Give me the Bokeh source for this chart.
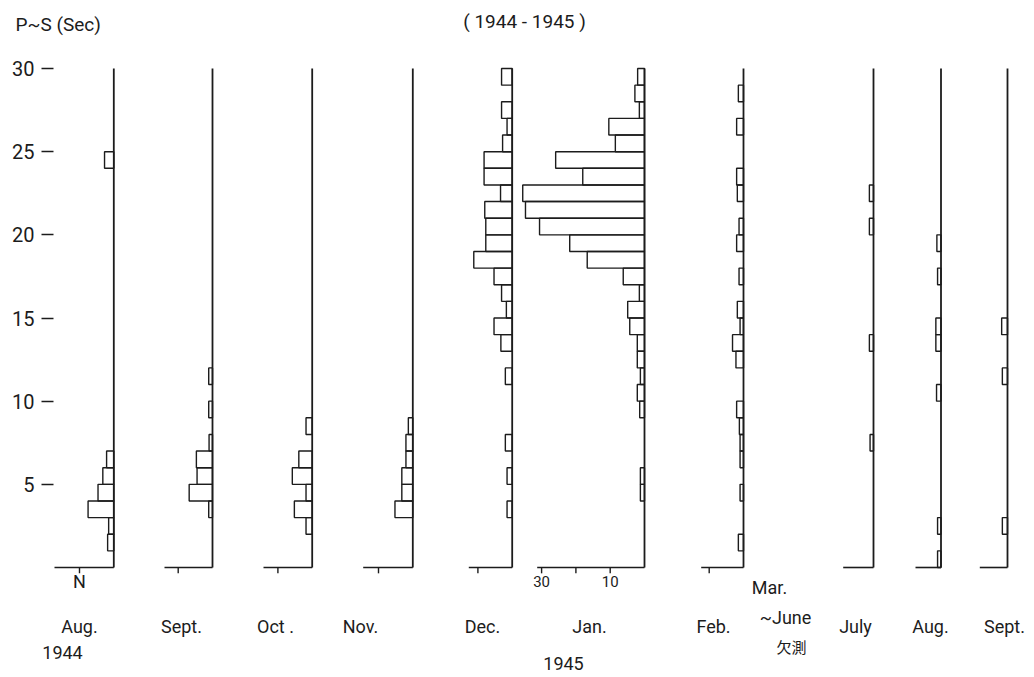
from bokeh.plotting import figure
from bokeh.models import Range1d, FixedTicker, Label, LinearAxis
from bokeh.embed import file_html
from bokeh.resources import INLINE

# ---------------- data (bin lower edge in seconds, count) ----------------
aug44_sec = [24, 6, 5, 4, 3, 2, 1]
aug44_n = [2.7, 2.1, 3.2, 4.6, 7.5, 1.5, 1.8]

sep44_sec = [11, 9, 7, 6, 5, 4, 3]
sep44_n = [1.1, 1.1, 1.0, 4.7, 4.5, 6.8, 1.1]

oct44_sec = [8, 6, 5, 4, 3, 2]
oct44_n = [1.8, 3.9, 5.8, 1.8, 5.2, 1.8]

nov44_sec = [8, 7, 6, 5, 4, 3]
nov44_n = [1.3, 2.0, 2.0, 3.2, 3.2, 5.2]

dec44_sec = [29, 27, 26, 25, 24, 23, 22, 21, 20, 19, 18, 17, 16, 15, 14, 13, 11, 7, 5, 3]
dec44_n = [3.1, 3.1, 1.5, 2.8, 8.2, 8.2, 3.4, 8.0, 7.7, 7.7, 11.2, 5.3, 3.1, 1.7, 5.3, 3.3, 2.0, 2.0, 1.5, 1.5]

jan45_sec = [29, 28, 27, 26, 25, 24, 23, 22, 21, 20, 19, 18, 17, 16, 15, 14, 13, 12, 11, 10, 9, 5, 4]
jan45_n = [2.0, 2.8, 1.5, 10.4, 8.5, 25.9, 18.0, 35.5, 34.7, 30.6, 21.8, 16.7, 6.2, 1.5, 4.9, 4.3,
           2.1, 2.1, 1.2, 2.1, 1.4, 1.2, 1.2]

feb45_sec = [28, 26, 23, 22, 20, 19, 17, 15, 14, 13, 12, 9, 8, 7, 6, 4, 1]
feb45_n = [1.5, 2.0, 2.0, 1.8, 1.3, 2.0, 1.3, 1.8, 1.0, 3.2, 2.2, 2.0, 1.2, 1.0, 1.0, 1.0, 1.5]

jul45_sec = [22, 20, 13, 7]
jul45_n = [1.2, 1.2, 1.2, 1.0]

aug45_sec = [19, 17, 14, 13, 10, 2, 0]
aug45_n = [1.2, 1.0, 1.5, 1.5, 1.3, 1.0, 1.0]

sep45_sec = [14, 11, 2]
sep45_n = [1.7, 1.5, 1.5]

month_labels = ["Aug.", "Sept.", "Oct .", "Nov.", "Dec.", "Jan.", "Feb.", "July", "Aug.", "Sept."]
ytick_values = [5, 10, 15, 20, 25, 30]
jan_ticks = [30, 20, 10]
jan_tick_labels = ["30", "", "10"]

# ---------------- layout ----------------
W, H = 1034, 677
AXIS_PX = 53            # where the seconds axis sits (screen px)
PX_PER_COUNT = 3.43
PX_PER_SEC = 16.633
ZERO_PX = 567

def xd(px):
    return (px - AXIS_PX) / PX_PER_COUNT

def yd(py):
    return (ZERO_PX - py) / PX_PER_SEC

panels = [
    # secs, counts, baseline px, count-axis left px, small tick at 10?
    (aug44_sec, aug44_n, 113.3, 54.0, True),
    (sep44_sec, sep44_n, 212.0, 164.0, True),
    (oct44_sec, oct44_n, 311.7, 263.0, True),
    (nov44_sec, nov44_n, 412.3, 362.7, True),
    (dec44_sec, dec44_n, 511.7, 468.3, True),
    (jan45_sec, jan45_n, 644.0, 536.7, False),
    (feb45_sec, feb45_n, 743.0, 700.7, True),
    (jul45_sec, jul45_n, 873.0, 842.7, False),
    (aug45_sec, aug45_n, 940.5, 915.0, False),
    (sep45_sec, sep45_n, 1007.0, 979.3, False),
]
label_x_px = [79, 181, 275, 360, 482, 589, 713, 855, 930, 1004]
MONTH_Y = 626

INK = "#1c1c1c"
FONT = "Roboto"

p = figure(width=W, height=H, output_backend="svg", toolbar_location=None,
           x_range=Range1d(xd(0), xd(W)), y_range=Range1d(yd(H), yd(0)),
           x_axis_type=None, y_axis_location=None,
           min_border_left=0, min_border_right=0, min_border_top=0, min_border_bottom=0)
p.outline_line_color = None
p.grid.visible = False
p.background_fill_color = "white"
p.border_fill_color = "white"

ax = LinearAxis(fixed_location=xd(AXIS_PX))
ax.ticker = FixedTicker(ticks=ytick_values)
ax.axis_line_color = None
ax.major_tick_in = 0
ax.major_tick_out = 12
ax.major_tick_line_color = INK
ax.major_tick_line_width = 1.5
ax.minor_tick_line_color = None
ax.major_label_standoff = 7
ax.major_label_text_font = FONT
ax.major_label_text_font_size = "20px"
ax.major_label_text_color = INK
p.add_layout(ax, "left")

for sec, n, base_px, left_px, tick10 in panels:
    base = xd(base_px)
    p.quad(left=[base - v for v in n], right=[base] * len(n),
           bottom=sec, top=[s + 1 for s in sec],
           fill_alpha=0, line_color=INK, line_width=1.4)
    p.segment(x0=[base], y0=[0], x1=[base], y1=[30], line_color=INK, line_width=1.8)
    p.segment(x0=[xd(left_px)], y0=[0], x1=[base], y1=[0], line_color=INK, line_width=1.6)
    if tick10:
        p.segment(x0=[base - 10], y0=[0], x1=[base - 10], y1=[-0.35], line_color=INK, line_width=1.4)

# count axis ticks of January
jan_base = xd(644.0)
p.segment(x0=[jan_base - t for t in jan_ticks], y0=[0] * 3,
          x1=[jan_base - t for t in jan_ticks], y1=[-0.35] * 3, line_color=INK, line_width=1.4)
for t, lab in zip(jan_ticks, jan_tick_labels):
    if lab:
        p.add_layout(Label(x=jan_base - t, y=yd(581), text=lab, text_align="center",
                           text_baseline="middle", text_font=FONT, text_font_size="15px",
                           text_color=INK))

def add_text(txt, xpx, ypx, size="18px", align="center", font=FONT):
    p.add_layout(Label(x=xd(xpx), y=yd(ypx), text=txt, text_align=align,
                       text_baseline="middle", text_font=font, text_font_size=size,
                       text_color=INK))

for txt, xpx in zip(month_labels, label_x_px):
    add_text(txt, xpx, MONTH_Y)

add_text("N", 79, 581)
add_text("1944", 62, 652)
add_text("1945", 563, 663)
add_text("Mar.", 769, 587)
add_text("~June", 785, 617)
add_text("欠測", 791, 646, size="15px", font="Noto Sans CJK JP")
add_text("P~S (Sec)", 15, 24, size="19px", align="left")
add_text("( 1944 - 1945 )", 524, 21, size="19px")

open("out.html", "w").write(file_html(p, INLINE))
